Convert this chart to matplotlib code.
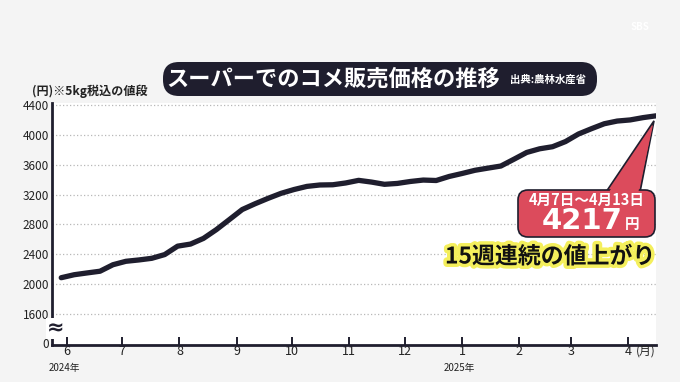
import numpy as np
import pandas as pd
import matplotlib
matplotlib.use('Agg')
import matplotlib.pyplot as plt
import matplotlib.dates as mdates
import matplotlib.patheffects as pe
from matplotlib.patches import FancyBboxPatch, Polygon

plt.rcParams['font.family'] = ['Noto Sans CJK JP', 'DejaVu Sans']

# weekly supermarket rice price (yen / 5kg, tax incl.)
week_start = '2024-05-29'
prices = [2085, 2125, 2149, 2172, 2259, 2305, 2323, 2345, 2395, 2508,
          2536, 2612, 2730, 2864, 2999, 3077, 3149, 3216, 3267, 3309,
          3328, 3331, 3355, 3390, 3367, 3337, 3349, 3375, 3394, 3388,
          3442, 3482, 3525, 3554, 3582, 3672, 3764, 3813, 3841, 3910,
          4011, 4082, 4149, 4185, 4200, 4231, 4255]
dates = pd.date_range(week_start, periods=len(prices), freq='7D')

month_ticks = pd.date_range('2024-06-01', '2025-04-01', freq='MS')
month_labels = ['6', '7', '8', '9', '10', '11', '12', '1', '2', '3', '4']
y_ticks = [1600, 2000, 2400, 2800, 3200, 3600, 4000, 4400]
y_zero_pos = 1210   # where the "0" label sits below the axis break

title = 'スーパーでのコメ販売価格の推移'
source = '出典:農林水産省'
unit_note = '(円)※5kg税込の値段'
period = '4月7日〜4月13日'
latest = '4217'
streak = '15週連続の値上がり'

navy = '#1f1e2e'
red = '#dc4b5c'

fig = plt.figure(figsize=(6.8, 3.82), dpi=100, facecolor='#f4f4f4')
ax = fig.add_axes([52 / 680, 37 / 382, 604 / 680, 242 / 382])
ax.set_facecolor('white')

ax.plot(dates, prices, color=navy, lw=3.8, solid_capstyle='round',
        solid_joinstyle='round', zorder=5)

ax.set_xlim(pd.Timestamp('2024-05-24'), pd.Timestamp('2025-04-16'))
ax.set_ylim(1183, 4427)

for v in y_ticks:
    ax.axhline(v, color='#b8b8b8', lw=0.9, ls=(0, (1, 1.8)), zorder=1)

ax.set_yticks([y_zero_pos] + y_ticks)
ax.set_yticklabels(['0'] + [str(v) for v in y_ticks])
ax.tick_params(axis='y', length=0, pad=2, labelsize=8.5, colors='#222222')
ax.set_xticks(month_ticks)
ax.set_xticklabels(month_labels)
ax.tick_params(axis='x', direction='in', length=6, width=1.4, color=navy,
               pad=0, labelsize=9, labelcolor='#222222')

for s in ['top', 'right']:
    ax.spines[s].set_visible(False)
for s in ['left', 'bottom']:
    ax.spines[s].set_color(navy)
    ax.spines[s].set_linewidth(2)

# axis break mark
ax.text(0.006, 1400, '≈', transform=ax.get_yaxis_transform(), ha='center',
        va='center', fontsize=15, fontweight='bold', color=navy, zorder=6,
        bbox=dict(boxstyle='square,pad=0.02', fc='white', ec='none'),
        family='DejaVu Sans', clip_on=False)

# overlay axes in pixel units for the decorations
deco = fig.add_axes([0, 0, 1, 1], facecolor='none')
deco.set_xlim(0, 680)
deco.set_ylim(0, 382)
deco.axis('off')

def py(y):
    return 382 - y

deco.text(32, py(91), unit_note, fontsize=8.7, fontweight='bold',
          color='#222222', ha='left', va='center')
deco.text(64, py(368), '2024年', fontsize=7, color='#222222', ha='center', va='center')
deco.text(459, py(368), '2025年', fontsize=7, color='#222222', ha='center', va='center')
deco.text(646, py(351), '(月)', fontsize=8.5, color='#222222', ha='center', va='center')

# title pill
deco.add_patch(FancyBboxPatch((163, py(96)), 434, 34,
                              boxstyle='round,pad=0,rounding_size=16',
                              fc=navy, ec='none'))
deco.text(333, py(79), title, fontsize=16, fontweight='bold', color='white',
          ha='center', va='center')
deco.text(510, py(80), source, fontsize=7.5, fontweight='bold', color='white',
          ha='left', va='center')

# callout pointing at the latest value
fig.canvas.draw()
end = ax.transData.transform((mdates.date2num(dates[-1]), prices[-1]))
apex = (end[0] - 2, end[1] - 5)
tri = [(606, py(192)), (640, py(192)), apex]
deco.add_patch(Polygon(tri, closed=True, fc=red, ec=navy, lw=1.2, zorder=2))
deco.add_patch(FancyBboxPatch((518, py(237)), 137, 47,
                              boxstyle='round,pad=0,rounding_size=10',
                              fc=red, ec=navy, lw=1.2, zorder=3))
tri_in = [(608, py(193.5)), (638, py(193.5)), (apex[0] - 1, apex[1] - 4)]
deco.add_patch(Polygon(tri_in, closed=True, fc=red, ec='none', zorder=4))
deco.text(587, py(200), period, fontsize=10.5, fontweight='bold', color='white',
          ha='center', va='center', zorder=5)
deco.text(623, py(221), latest, fontsize=21, fontweight='bold', color='white',
          ha='right', va='center', zorder=5, family='DejaVu Sans')
deco.text(625, py(224), '円', fontsize=10.5, fontweight='bold', color='white',
          ha='left', va='center', zorder=5)

deco.text(550, py(257), streak, fontsize=16.5, fontweight='bold', color='#111111',
          ha='center', va='center', zorder=5,
          path_effects=[pe.withStroke(linewidth=5, foreground='#f4ef5c')])

deco.text(640, py(27), 'SBS', fontsize=7, fontweight='bold', color='white',
          ha='center', va='center')

fig.savefig('out.png', dpi=100, facecolor=fig.get_facecolor())
